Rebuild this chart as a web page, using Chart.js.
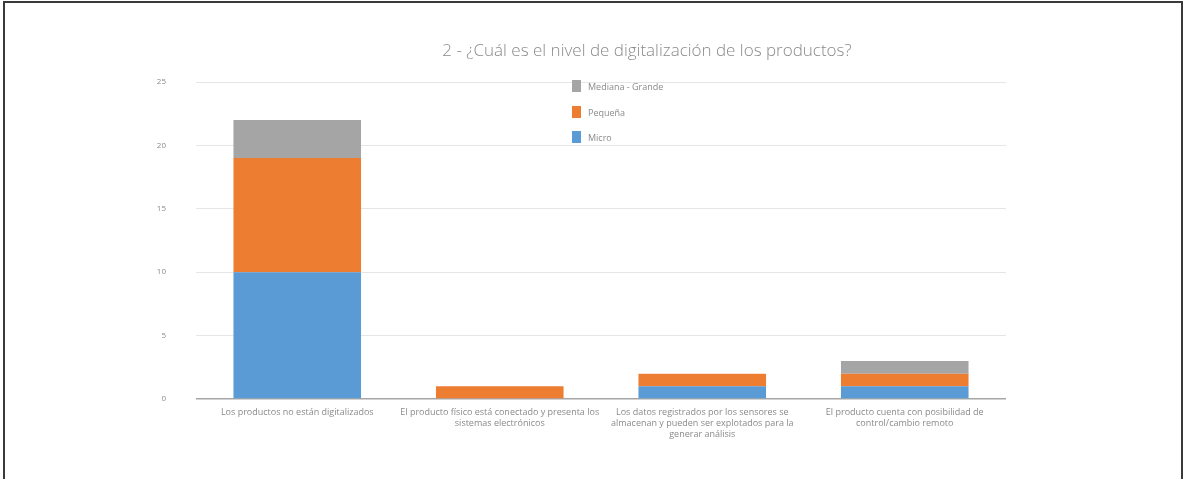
<!DOCTYPE html>
<html>
<head>
<meta charset="utf-8">
<script src="https://cdn.jsdelivr.net/npm/chart.js@4/dist/chart.umd.min.js"></script>
<style>
  html, body { margin: 0; padding: 0; background: #fff; }
  #wrap { position: relative; width: 1189px; height: 479px; overflow: hidden; font-family: "Open Sans", sans-serif; }
  #frame { position: absolute; left: 3px; top: 1px; width: 1180px; height: 490px; border: 2px solid #3a3a3a; box-sizing: border-box; }
  #title { position: absolute; left: 0; width: 1294px; top: 38px; text-align: center; font-size: 17px; color: #8a8a8a; font-weight: 300; }
  #legend { position: absolute; left: 572px; top: 80px; font-size: 9px; color: #8a8a8a; }
  .item { height: 25.5px; display: flex; align-items: flex-start; }
  .box { width: 9px; height: 12px; margin-right: 7px; }
  canvas { position: absolute; left: 0; top: 0; }
</style>
</head>
<body>
<div id="wrap">
  <canvas id="myChart" width="1189" height="479"></canvas>
  <div id="frame"></div>
  <div id="title">2 - ¿Cuál es el nivel de digitalización de los productos?</div>
  <div id="legend"></div>
</div>
<script>
const categories = [
  'Los productos no están digitalizados',
  ['El producto físico está conectado y presenta los', 'sistemas electrónicos'],
  ['Los datos registrados por los sensores se', 'almacenan y pueden ser explotados para la', 'generar análisis'],
  ['El producto cuenta con posibilidad de', 'control/cambio remoto']
];
const micro = [10, 0, 1, 1];
const pequena = [9, 1, 1, 1];
const mediana = [3, 0, 0, 1];
const yTicks = [0, 5, 10, 15, 20, 25];

const COLORS = { micro: '#5B9BD5', pequena: '#ED7D31', mediana: '#A5A5A5' };

const data = {
  labels: categories,
  datasets: [
    { label: 'Micro', data: micro, backgroundColor: COLORS.micro },
    { label: 'Pequeña', data: pequena, backgroundColor: COLORS.pequena },
    { label: 'Mediana - Grande', data: mediana, backgroundColor: COLORS.mediana }
  ]
};

const config = {
  type: 'bar',
  data: data,
  options: {
    responsive: false,
    animation: false,
    layout: { padding: { left: 0, top: 82, right: 183, bottom: 10 } },
    datasets: { bar: { barPercentage: 0.63, categoryPercentage: 1 } },
    plugins: { legend: { display: false }, title: { display: false }, tooltip: { enabled: false } },
    scales: {
      x: {
        stacked: true,
        grid: { display: false },
        border: { display: false },
        ticks: {
          color: '#8a8a8a', font: { size: 9, family: 'Open Sans' },
          maxRotation: 0, autoSkip: false, padding: 0
        },
        afterFit: (scale) => { scale.height = 70; }
      },
      y: {
        stacked: true,
        min: 0, max: 25,
        afterBuildTicks: (scale) => { scale.ticks = yTicks.map(v => ({ value: v })); },
        grid: {
          color: (c) => c.tick && c.tick.value === 0 ? '#a6a6a6' : '#e6e6e6',
          lineWidth: (c) => c.tick && c.tick.value === 0 ? 1.5 : 1,
          drawTicks: false
        },
        border: { display: false },
        ticks: { color: '#8a8a8a', font: { size: 8, family: 'Open Sans' }, padding: 30 },
        afterFit: (scale) => { scale.width = 196; }
      }
    }
  }
};

const myChart = new Chart(document.getElementById('myChart'), config);

// legend in the order shown on the picture (top series first)
let legend = document.getElementById('legend');
for (let i = data.datasets.length - 1; i >= 0; i--) {
  let ds = data.datasets[i];
  let row = document.createElement('div');
  row.className = 'item';
  row.innerHTML = '<span class="box" style="background:' + ds.backgroundColor + '"></span><span>' + ds.label + '</span>';
  legend.appendChild(row);
}
</script>
</body>
</html>
